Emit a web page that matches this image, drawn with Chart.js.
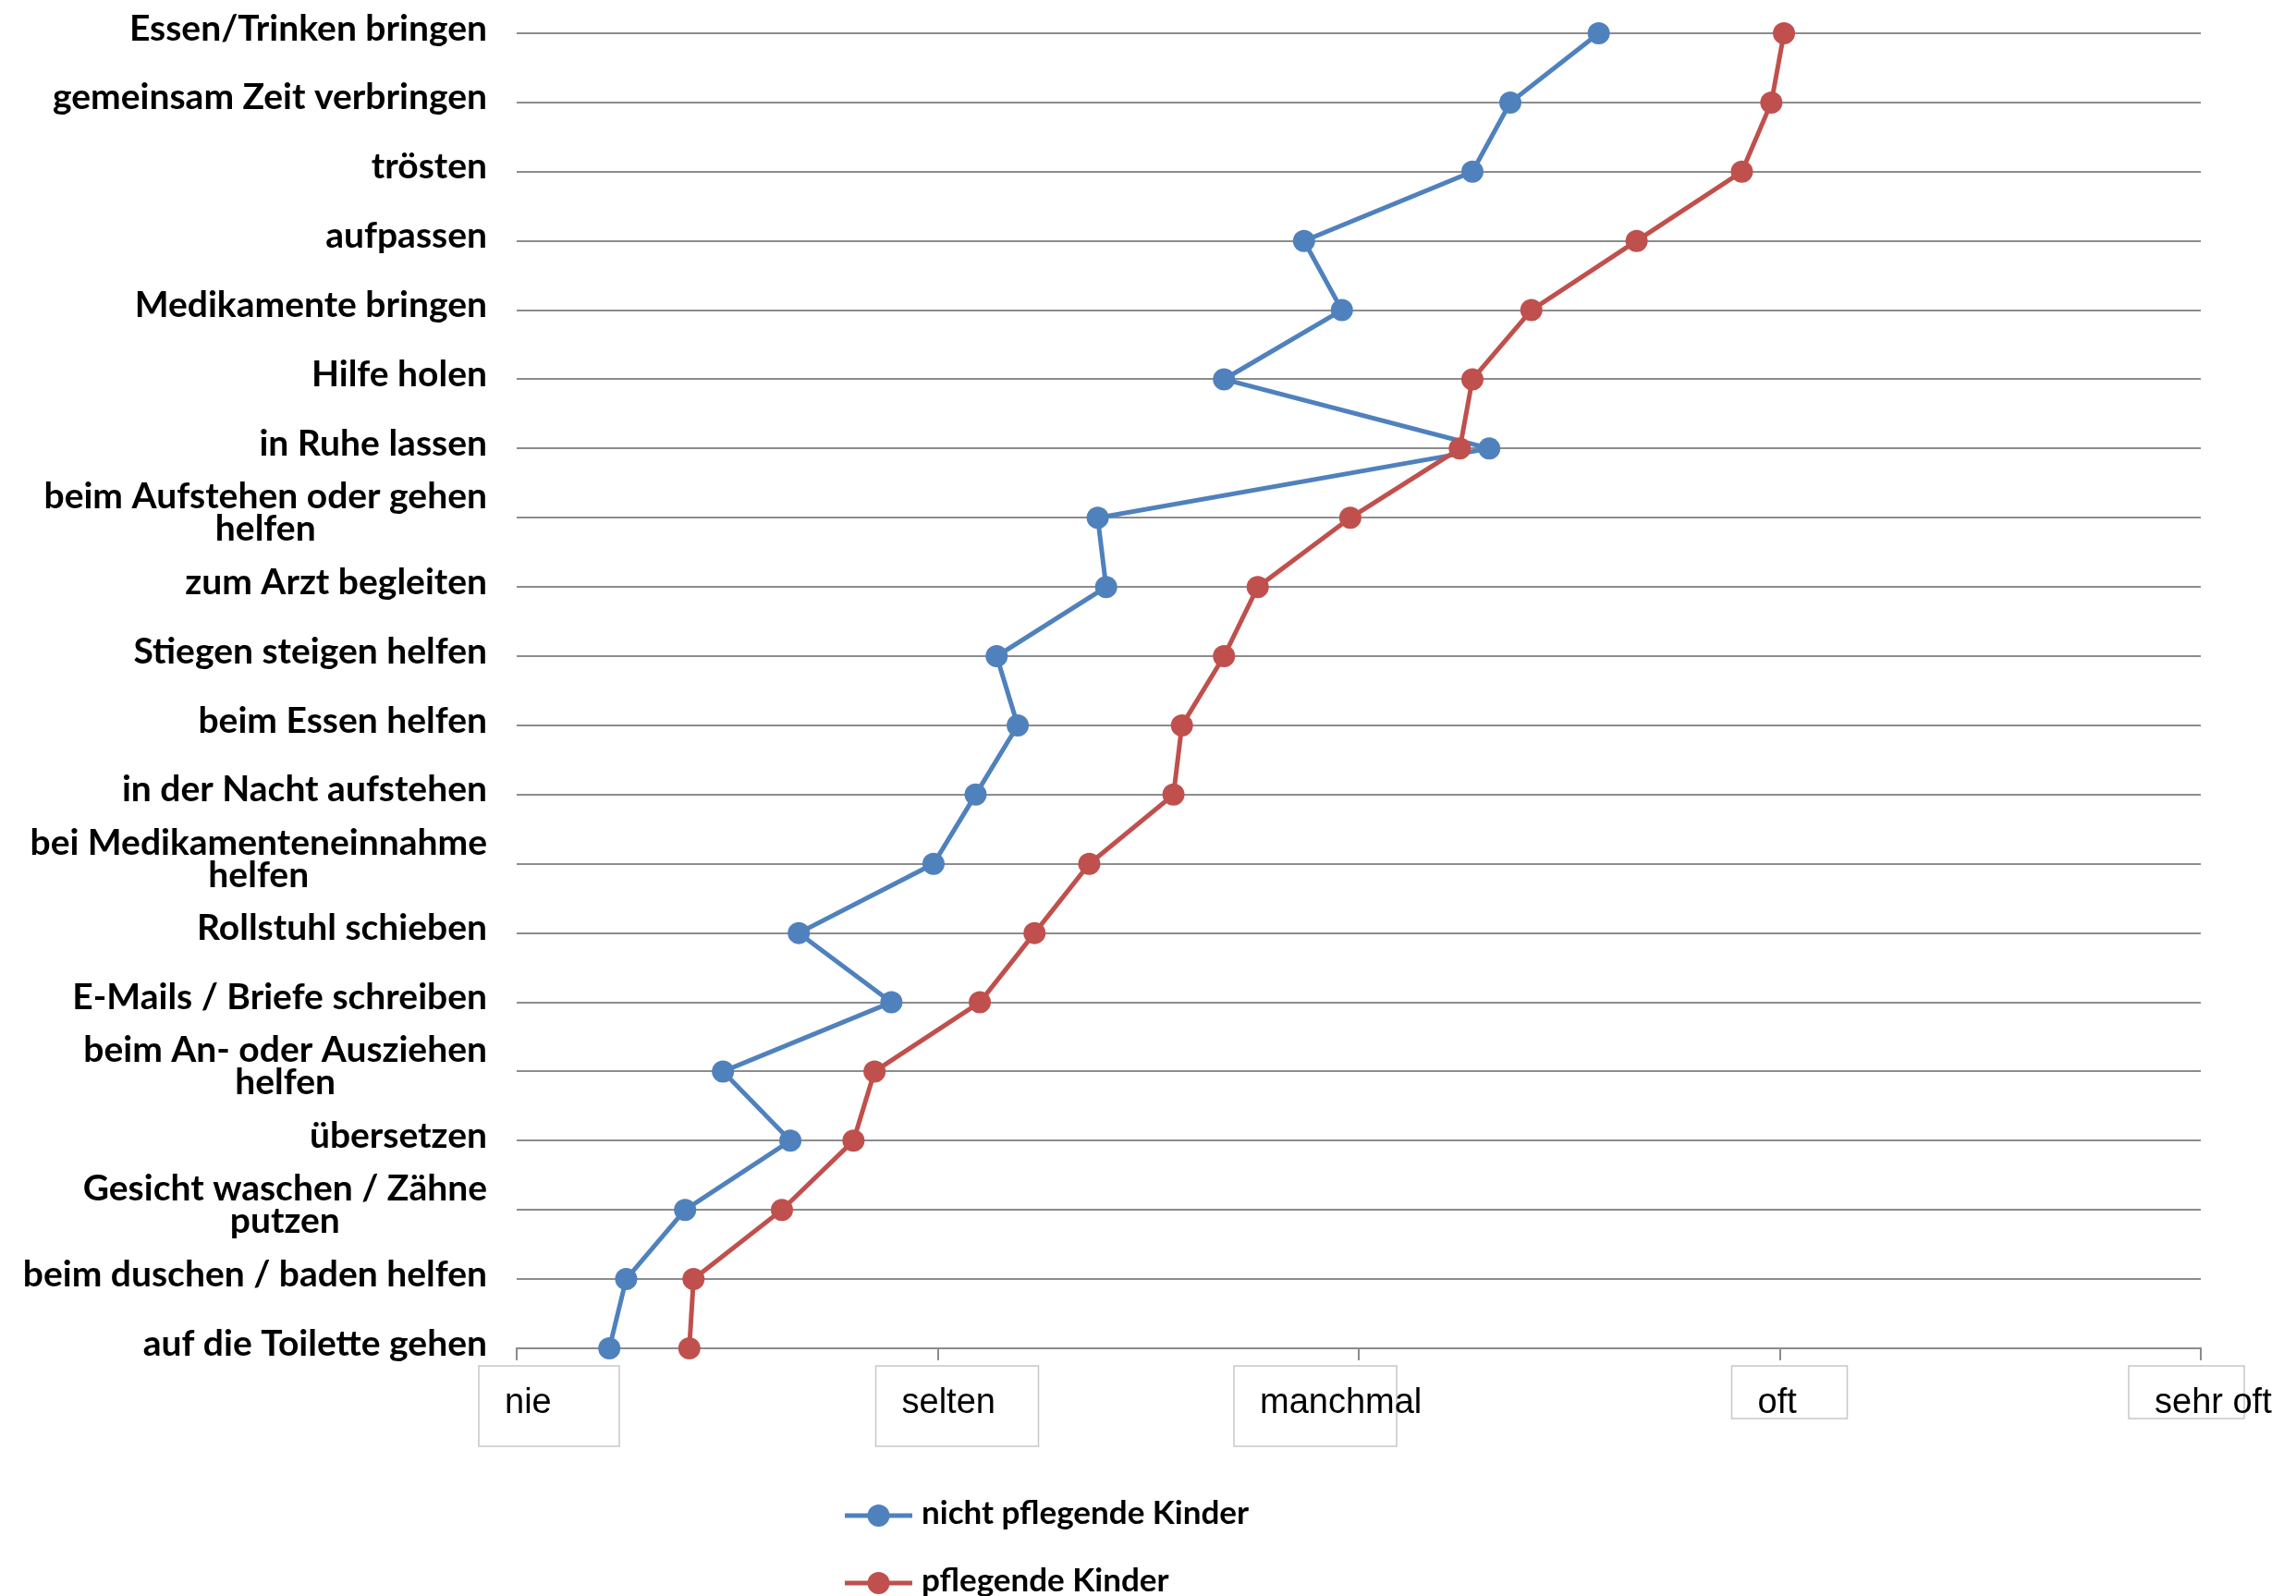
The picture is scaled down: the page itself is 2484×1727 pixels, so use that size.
<!DOCTYPE html>
<html>
<head>
<meta charset="utf-8">
<script src="https://cdn.jsdelivr.net/npm/chart.js@4.4.1/dist/chart.umd.min.js"></script>
<style>
  html, body { margin: 0; padding: 0; background: #ffffff; }
  #wrap { width: 2484px; height: 1727px; }
</style>
</head>
<body>
<div id="wrap"><canvas id="chart" width="2484" height="1727"></canvas></div>
<script>
// Tätigkeiten (top to bottom); multi-line labels are arrays of lines
const activities = [
  ['Essen/Trinken bringen'],
  ['gemeinsam Zeit verbringen'],
  ['trösten'],
  ['aufpassen'],
  ['Medikamente bringen'],
  ['Hilfe holen'],
  ['in Ruhe lassen'],
  ['beim Aufstehen oder gehen', 'helfen'],
  ['zum Arzt begleiten'],
  ['Stiegen steigen helfen'],
  ['beim Essen helfen'],
  ['in der Nacht aufstehen'],
  ['bei Medikamenteneinnahme', 'helfen'],
  ['Rollstuhl schieben'],
  ['E-Mails / Briefe schreiben'],
  ['beim An- oder Ausziehen', 'helfen'],
  ['übersetzen'],
  ['Gesicht waschen / Zähne', 'putzen'],
  ['beim duschen / baden helfen'],
  ['auf die Toilette gehen']
];

// mean frequency, 1 = nie ... 5 = sehr oft
const nichtPflegendeKinder = [3.57, 3.36, 3.27, 2.87, 2.96, 2.68, 3.31, 2.38, 2.40, 2.14,
                              2.19, 2.09, 1.99, 1.67, 1.89, 1.49, 1.65, 1.40, 1.26, 1.22];
const pflegendeKinder      = [4.01, 3.98, 3.91, 3.66, 3.41, 3.27, 3.24, 2.98, 2.76, 2.68,
                              2.58, 2.56, 2.36, 2.23, 2.10, 1.85, 1.80, 1.63, 1.42, 1.41];

const frequencyLabels = ['nie', 'selten', 'manchmal', 'oft', 'sehr oft'];
const seriesNames = ['nicht pflegende Kinder', 'pflegende Kinder'];

const BLUE = '#4F81BD';
const RED = '#C0504D';
const GRID = '#8c8c8c';
const CATEGORY_FONT = 'bold 39px Lato, "Open Sans", sans-serif';
const LEGEND_FONT = 'bold 35px Lato, "Open Sans", sans-serif';
const FREQ_FONT = '38px "Liberation Sans", Arial, sans-serif';

// text boxes holding the frequency labels: offset from the tick, width, height
const labelFrames = [
  { dx: -41, w: 152, h: 87 },
  { dx: -67, w: 176, h: 87 },
  { dx: -135, w: 176, h: 87 },
  { dx: -52, w: 125, h: 57 },
  { dx: -78, w: 125, h: 57 }
];

// category labels: first line right-aligned, further lines centred under it
const activityLabels = {
  id: 'activityLabels',
  afterDraw(chart) {
    const ctx = chart.ctx;
    const yScale = chart.scales.y;
    const right = chart.chartArea.left - 32;
    const lineH = 35;
    ctx.save();
    ctx.font = CATEGORY_FONT;
    ctx.fillStyle = '#000000';
    ctx.textAlign = 'center';
    ctx.textBaseline = 'middle';
    chart.data.labels.forEach((lines, i) => {
      const y = yScale.getPixelForTick(i);
      const maxW = Math.max(...lines.map(l => ctx.measureText(l).width));
      const cx = right - maxW / 2;
      lines.forEach((line, j) => {
        ctx.fillText(line, cx, y + (j - (lines.length - 1) / 2) * lineH - 5);
      });
    });
    ctx.restore();
  }
};

// frequency labels, each left-aligned inside its own thin box under the tick
const frequencyBoxes = {
  id: 'frequencyBoxes',
  afterDraw(chart) {
    const ctx = chart.ctx;
    const xScale = chart.scales.x;
    const top = chart.chartArea.bottom + 19;
    ctx.save();
    ctx.strokeStyle = '#c8c8c8';
    ctx.lineWidth = 1.5;
    ctx.font = FREQ_FONT;
    ctx.fillStyle = '#000000';
    ctx.textAlign = 'left';
    ctx.textBaseline = 'middle';
    xScale.ticks.forEach((t, i) => {
      const f = labelFrames[i];
      if (!f) return;
      const x = xScale.getPixelForValue(t.value) + f.dx;
      ctx.strokeRect(x, top, f.w, f.h);
      ctx.fillText(frequencyLabels[t.value - 1], x + 28, top + 41);
    });
    ctx.restore();
  }
};

// legend stacked vertically below the axis
const stackedLegend = {
  id: 'stackedLegend',
  afterDraw(chart) {
    const ctx = chart.ctx;
    const x0 = 914, x1 = 987, top = 1640, step = 73;
    ctx.save();
    chart.data.datasets.forEach((ds, i) => {
      const y = top + i * step;
      ctx.strokeStyle = ds.borderColor;
      ctx.lineWidth = 5;
      ctx.beginPath();
      ctx.moveTo(x0, y);
      ctx.lineTo(x1, y);
      ctx.stroke();
      ctx.fillStyle = ds.borderColor;
      ctx.beginPath();
      ctx.arc((x0 + x1) / 2, y, 12, 0, Math.PI * 2);
      ctx.fill();
      ctx.fillStyle = '#000000';
      ctx.font = LEGEND_FONT;
      ctx.textAlign = 'left';
      ctx.textBaseline = 'middle';
      ctx.fillText(ds.label, x1 + 10, y - 2);
    });
    ctx.restore();
  }
};

new Chart(document.getElementById('chart'), {
  type: 'line',
  data: {
    labels: activities,
    datasets: [
      {
        label: seriesNames[0],
        data: nichtPflegendeKinder,
        borderColor: BLUE,
        backgroundColor: BLUE,
        pointBackgroundColor: BLUE,
        order: 1
      },
      {
        label: seriesNames[1],
        data: pflegendeKinder,
        borderColor: RED,
        backgroundColor: RED,
        pointBackgroundColor: RED,
        order: 0
      }
    ]
  },
  options: {
    indexAxis: 'y',
    responsive: false,
    animation: false,
    devicePixelRatio: 1,
    clip: false,
    layout: { padding: { left: 0, right: 103, top: 36, bottom: 0 } },
    elements: {
      line: { borderWidth: 5, tension: 0, fill: false },
      point: { radius: 12, borderWidth: 0, hoverRadius: 12 }
    },
    plugins: {
      legend: { display: false },
      tooltip: { enabled: false }
    },
    scales: {
      y: {
        type: 'category',
        position: 'left',
        offset: false,
        grid: { color: GRID, lineWidth: 2, drawTicks: false },
        border: { display: false },
        ticks: { display: false },
        afterFit(scale) { scale.width = 559; }
      },
      x: {
        type: 'linear',
        position: 'bottom',
        min: 1,
        max: 5,
        grid: { drawOnChartArea: false, drawTicks: true, tickLength: 13, color: GRID, lineWidth: 2 },
        border: { display: true, color: GRID, width: 2 },
        ticks: { stepSize: 1, display: false },
        afterFit(scale) { scale.height = 268; }
      }
    }
  },
  plugins: [frequencyBoxes, activityLabels, stackedLegend]
});
</script>
</body>
</html>
